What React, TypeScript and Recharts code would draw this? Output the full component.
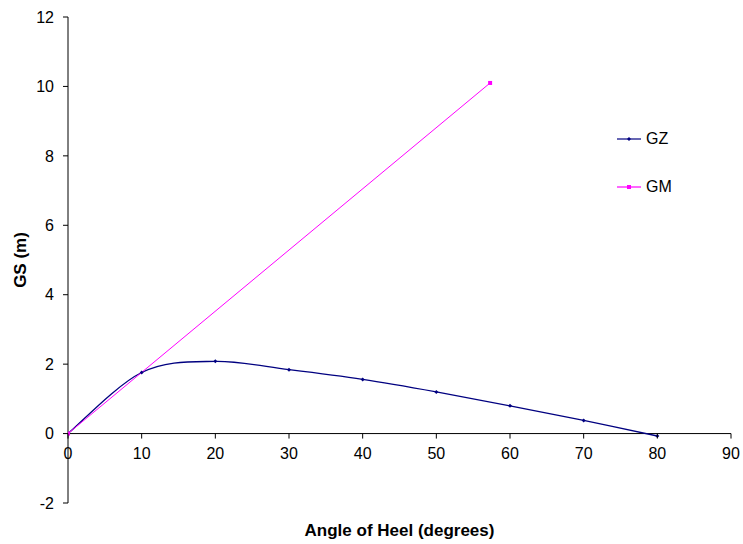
import { Label, Line, LineChart, ReferenceLine, XAxis, YAxis } from "recharts";

const heelAngles = [0, 10, 20, 30, 40, 50, 60, 70, 80];
const gzValues = [0, 1.76, 2.08, 1.84, 1.56, 1.2, 0.8, 0.38, -0.07];

const gmAngles = [0, 57.3];
const gmValues = [0, 10.1];

const xTicks = [0, 10, 20, 30, 40, 50, 60, 70, 80, 90];
const yTicks = [-2, 0, 2, 4, 6, 8, 10, 12];

const gzData = heelAngles.map((a, i) => ({ angle: a, value: gzValues[i] }));
const gmData = gmAngles.map((a, i) => ({ angle: a, value: gmValues[i] }));

const W = 743;
const H = 544;
const TOP = 17;
const X_AXIS_H = 41;
const PLOT_H = H - TOP - X_AXIS_H;
const Y_MIN = -2;
const Y_MAX = 12;
// pixel row of the y = 0 line, where Excel draws the category axis
const ZERO_Y = TOP + (PLOT_H * (Y_MAX - 0)) / (Y_MAX - Y_MIN);

const FONT = "'Liberation Sans', Arial, sans-serif";
const NAVY = "#000080";
const MAGENTA = "#FF00FF";

// Excel-style smoothed line: cubic bezier with catmull-rom tangents
function excelSmooth(context: any) {
  let pts: number[][] = [];
  return {
    areaStart() {},
    areaEnd() {},
    lineStart() {
      pts = [];
    },
    point(x: number, y: number) {
      pts.push([x, y]);
    },
    lineEnd() {
      if (!pts.length) return;
      context.moveTo(pts[0][0], pts[0][1]);
      for (let i = 0; i < pts.length - 1; i++) {
        const p0 = pts[Math.max(i - 1, 0)];
        const p1 = pts[i];
        const p2 = pts[i + 1];
        const p3 = pts[Math.min(i + 2, pts.length - 1)];
        context.bezierCurveTo(
          p1[0] + (p2[0] - p0[0]) / 6,
          p1[1] + (p2[1] - p0[1]) / 6,
          p2[0] - (p3[0] - p1[0]) / 6,
          p2[1] - (p3[1] - p1[1]) / 6,
          p2[0],
          p2[1]
        );
      }
    },
  };
}

function XTick(props: any) {
  const { x, payload } = props;
  return (
    <g>
      <line x1={x} x2={x} y1={ZERO_Y} y2={ZERO_Y + 5} stroke="#000" />
      <text
        x={x}
        y={ZERO_Y + 25}
        textAnchor="middle"
        fontSize={16}
        fontFamily={FONT}
        fill="#000"
      >
        {payload.value}
      </text>
    </g>
  );
}

function GzDot(props: any) {
  const { cx, cy } = props;
  return (
    <path
      key={`gz-${cx}`}
      d={`M${cx},${cy - 2}L${cx + 2},${cy}L${cx},${cy + 2}L${cx - 2},${cy}Z`}
      fill={NAVY}
    />
  );
}

function GmDot(props: any) {
  const { cx, cy } = props;
  return (
    <rect key={`gm-${cx}`} x={cx - 2} y={cy - 2} width={4} height={4} fill={MAGENTA} />
  );
}

function LegendBox() {
  const rows = [
    { name: "GZ", color: NAVY, square: false },
    { name: "GM", color: MAGENTA, square: true },
  ];
  return (
    <div style={{ position: "absolute", left: 617, top: 129, fontFamily: FONT, fontSize: 16 }}>
      {rows.map((r, i) => (
        <div
          key={r.name}
          style={{ display: "flex", alignItems: "center", height: 20, marginTop: i ? 28 : 0 }}
        >
          <svg width={26} height={10}>
            <line x1={0} x2={24} y1={5} y2={5} stroke={r.color} strokeWidth={1.2} />
            {r.square ? (
              <rect x={10} y={3} width={4} height={4} fill={r.color} />
            ) : (
              <path d="M12,3L14,5L12,7L10,5Z" fill={r.color} />
            )}
          </svg>
          <span style={{ marginLeft: 3 }}>{r.name}</span>
        </div>
      ))}
    </div>
  );
}

export default function App() {
  return (
    <div
      style={{
        position: "absolute",
        left: 0,
        top: 0,
        width: W,
        height: H,
        background: "#fff",
        fontFamily: FONT,
      }}
    >
      <LineChart width={W} height={H} margin={{ top: TOP, right: 12, bottom: 0, left: 0 }}>
        <XAxis
          type="number"
          dataKey="angle"
          domain={[0, 90]}
          ticks={xTicks}
          allowDataOverflow
          axisLine={false}
          tickLine={false}
          height={X_AXIS_H}
          tick={<XTick />}
        >
          <Label
            value="Angle of Heel (degrees)"
            position="insideBottom"
            offset={8}
            fontSize={17}
            fontWeight="bold"
            fill="#000"
            fontFamily={FONT}
          />
        </XAxis>
        <YAxis
          type="number"
          domain={[Y_MIN, Y_MAX]}
          ticks={yTicks}
          width={68}
          axisLine={{ stroke: "#000" }}
          tickLine={{ stroke: "#000" }}
          tickSize={5}
          tickMargin={9}
          tick={{ fill: "#000", fontSize: 16, fontFamily: FONT }}
        >
          <Label
            content={(p: any) => {
              const vb = p.viewBox || {};
              const cy = (vb.y ?? TOP) + (vb.height ?? PLOT_H) / 2;
              return (
                <text
                  x={20}
                  y={cy}
                  transform={`rotate(-90 20 ${cy})`}
                  textAnchor="middle"
                  dominantBaseline="central"
                  fontSize={17}
                  fontWeight="bold"
                  fontFamily={FONT}
                  fill="#000"
                >
                  GS (m)
                </text>
              );
            }}
          />
        </YAxis>
        <ReferenceLine y={0} stroke="#000" />
        <Line
          data={gzData}
          dataKey="value"
          name="GZ"
          type={excelSmooth as any}
          stroke={NAVY}
          strokeWidth={1.3}
          dot={<GzDot />}
          activeDot={false}
          isAnimationActive={false}
        />
        <Line
          data={gmData}
          dataKey="value"
          name="GM"
          type="linear"
          stroke={MAGENTA}
          strokeWidth={1}
          dot={<GmDot />}
          activeDot={false}
          isAnimationActive={false}
        />
      </LineChart>
      <LegendBox />
    </div>
  );
}
